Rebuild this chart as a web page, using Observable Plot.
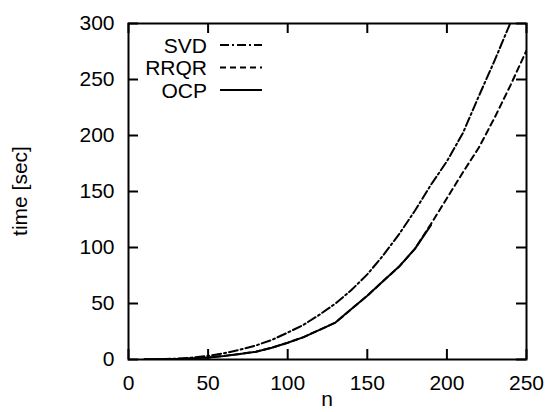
<!DOCTYPE html>
<html>
<head>
<meta charset="utf-8">
<script src="https://cdn.jsdelivr.net/npm/d3@7"></script>
<script src="https://cdn.jsdelivr.net/npm/@observablehq/plot@0.6"></script>
<style>
  html, body { margin: 0; padding: 0; background: #fff; }
  svg { font-family: "Liberation Sans", Arial, sans-serif; }
</style>
</head>
<body>
<div id="chart"></div>
<script>
// ---- data ----
const nSVD  = [10, 20, 30, 40, 50, 60, 70, 80, 90, 100, 110, 120, 130, 140, 150, 160, 170, 180, 190, 200, 210, 220, 230, 240, 250];
const tSVD  = [0.1, 0.3, 0.8, 1.7, 3.2, 5.6, 8.7, 12.5, 17.5, 24, 31, 40, 50, 62, 76, 93, 112, 133, 156, 177, 202, 235, 267, 301, 337];
const nRRQR = [10, 20, 30, 40, 50, 60, 70, 80, 90, 100, 110, 120, 130, 140, 150, 160, 170, 180, 190, 200, 210, 220, 230, 240, 250];
const tRRQR = [0.05, 0.15, 0.4, 0.9, 1.8, 3.2, 5, 7, 10.5, 15, 20, 26.5, 33, 45, 57, 70, 83, 99, 121, 144, 167, 189, 216, 245, 276];
const nOCP  = [10, 20, 30, 40, 50, 60, 70, 80, 90, 100, 110, 120, 130, 140, 150, 160, 170, 180, 190];
const tOCP  = [0.05, 0.15, 0.4, 0.9, 1.8, 3.2, 5, 7, 10.5, 15, 20, 26.5, 33, 45, 57, 70, 83, 99, 120];

const xTicks = [0, 50, 100, 150, 200, 250];
const yTicks = [0, 50, 100, 150, 200, 250, 300];
const seriesNames = ["SVD", "RRQR", "OCP"];
const xLabel = "n";
const yLabel = "time [sec]";

const toRows = (ns, ts) => ns.map((n, i) => ({n, t: ts[i]}));
const svd = toRows(nSVD, tSVD);
const rrqr = toRows(nRRQR, tRRQR);
const ocp = toRows(nOCP, tOCP);

// ---- styles ----
const W = 549, H = 412;
const mL = 128, mR = 23, mT = 23, mB = 53;
const plotW = W - mL - mR, plotH = H - mT - mB;
const tickLen = 10;
const fs = 21;
const dashes = {SVD: "9,3,2,3", RRQR: "6,4", OCP: null};

function legendMark(index, scales, values, dims) {
  const g = d3.create("svg:g");
  seriesNames.forEach((name, i) => {
    const cy = 45 + i * 22.5;
    g.append("text")
      .attr("x", 207).attr("y", cy + 7.5)
      .attr("text-anchor", "end")
      .attr("font-size", fs)
      .attr("fill", "black")
      .text(name);
    const l = g.append("line")
      .attr("x1", 220).attr("x2", 262)
      .attr("y1", cy).attr("y2", cy)
      .attr("stroke", "black").attr("stroke-width", 2);
    if (dashes[name]) l.attr("stroke-dasharray", dashes[name]);
  });
  // axis titles
  g.append("text")
    .attr("transform", `translate(27,${(dims.marginTop + dims.height - dims.marginBottom) / 2}) rotate(-90)`)
    .attr("text-anchor", "middle").attr("font-size", fs).attr("fill", "black")
    .text(yLabel);
  g.append("text")
    .attr("x", dims.marginLeft + (dims.width - dims.marginLeft - dims.marginRight) / 2)
    .attr("y", 406)
    .attr("text-anchor", "middle").attr("font-size", fs).attr("fill", "black")
    .text(xLabel);
  return g.node();
}

const chart = Plot.plot({
  width: W, height: H,
  marginLeft: mL, marginRight: mR, marginTop: mT, marginBottom: mB,
  x: {domain: [0, 250], axis: null},
  y: {domain: [0, 300], axis: null},
  marks: [
    // inward ticks
    Plot.tickX(xTicks, {x: d => d, insetTop: plotH - tickLen, stroke: "black", strokeWidth: 2}),
    Plot.tickX(xTicks, {x: d => d, insetBottom: plotH - tickLen, stroke: "black", strokeWidth: 2}),
    Plot.tickY(yTicks, {y: d => d, insetRight: plotW - tickLen, stroke: "black", strokeWidth: 2}),
    Plot.tickY(yTicks, {y: d => d, insetLeft: plotW - tickLen, stroke: "black", strokeWidth: 2}),
    // tick labels
    Plot.text(xTicks, {x: d => d, frameAnchor: "bottom", dy: 23.5, lineAnchor: "middle", text: d => String(d), fontSize: fs, fill: "black"}),
    Plot.text(yTicks, {y: d => d, frameAnchor: "left", dx: -14, textAnchor: "end", lineAnchor: "middle", text: d => String(d), fontSize: fs, fill: "black"}),
    // series
    Plot.line(svd, {x: "n", y: "t", stroke: "black", strokeWidth: 2, strokeDasharray: dashes.SVD, clip: true}),
    Plot.line(rrqr, {x: "n", y: "t", stroke: "black", strokeWidth: 2, strokeDasharray: dashes.RRQR, clip: true}),
    Plot.line(ocp, {x: "n", y: "t", stroke: "black", strokeWidth: 2, clip: true}),
    Plot.frame({stroke: "black", strokeWidth: 2}),
    legendMark
  ]
});
document.getElementById("chart").appendChild(chart);
</script>
</body>
</html>
